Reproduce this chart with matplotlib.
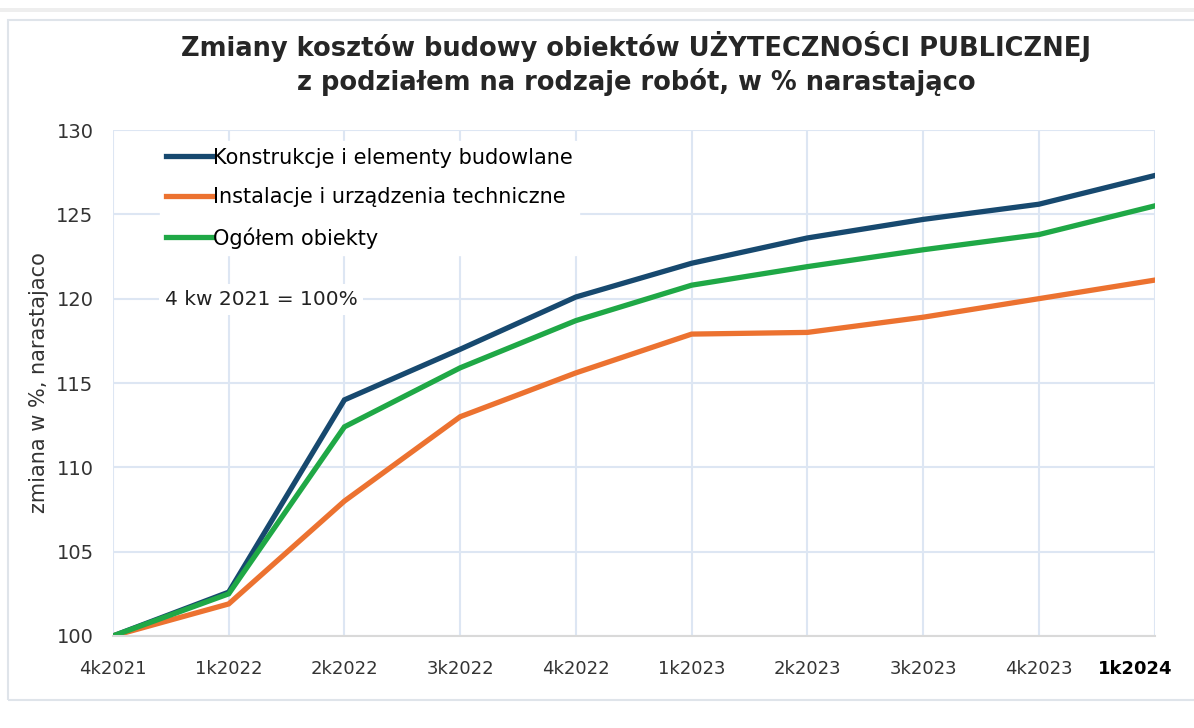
import numpy as np
import matplotlib
matplotlib.use("Agg")
import matplotlib.pyplot as plt
import matplotlib.transforms as mtrans
from matplotlib.patches import Rectangle

quarters = ["4k2021", "1k2022", "2k2022", "3k2022", "4k2022",
            "1k2023", "2k2023", "3k2023", "4k2023", "1k2024"]
konstrukcje = [100.0, 102.6, 114.0, 117.0, 120.1, 122.1, 123.6, 124.7, 125.6, 127.3]
instalacje = [100.0, 101.9, 108.0, 113.0, 115.6, 117.9, 118.0, 118.9, 120.0, 121.1]
ogolem = [100.0, 102.5, 112.4, 115.9, 118.7, 120.8, 121.9, 122.9, 123.8, 125.5]
names = ["Konstrukcje i elementy budowlane",
         "Instalacje i urządzenia techniczne",
         "Ogółem obiekty"]
colors = ["#17496f", "#ec7230", "#1fa846"]

fig = plt.figure(figsize=(11.94, 7.28), dpi=100)
ax = fig.add_axes([0.0946, 0.1264, 0.8724, 0.695])

# frame around the whole chart, plus the thin strip at the very top
fig.patches.append(Rectangle((8 / 1194, 28 / 728), 1.0, 680 / 728,
                             transform=fig.transFigure, fill=False,
                             edgecolor="#dfe4ea", lw=1.5))
fig.patches.append(Rectangle((0, 1 - 12 / 728), 1.0, 4 / 728,
                             transform=fig.transFigure, color="#eeeeee", lw=0))

x = np.arange(len(quarters))
for ys, name, c in zip([konstrukcje, instalacje, ogolem], names, colors):
    ax.plot(x, ys, color=c, lw=3.8, label=name, solid_joinstyle="miter")

ax.set_xlim(0, len(quarters) - 1)
ax.set_ylim(100, 130)
ax.set_yticks(np.arange(100, 131, 5))
ax.set_xticks(x)
ax.set_xticklabels(quarters)
ax.grid(True, color="#dde6f3", lw=1.5)
ax.set_axisbelow(True)
for s in ["top", "right", "left"]:
    ax.spines[s].set_visible(False)
ax.spines["bottom"].set_color("#d9d9d9")
ax.spines["bottom"].set_linewidth(1.5)
ax.tick_params(axis="x", length=0, pad=17, labelsize=13, colors="#333333")
ax.tick_params(axis="y", length=0, pad=14, labelsize=14, colors="#333333")
lbls = ax.get_xticklabels()
lbls[-1].set_fontweight("bold")
lbls[-1].set_color("black")
lbls[-1].set_transform(lbls[-1].get_transform() +
                       mtrans.ScaledTranslation(-0.19, 0, fig.dpi_scale_trans))

ax.set_ylabel("zmiana w %, narastajaco", fontsize=15, color="#333333", labelpad=5)

leg = ax.legend(loc="upper left", bbox_to_anchor=(0.035, 0.998), frameon=True,
                fontsize=15, handlelength=2.2, handletextpad=0.05,
                labelspacing=0.95, borderpad=0.3)
leg.get_frame().set_facecolor("white")
leg.get_frame().set_edgecolor("white")
leg.get_frame().set_alpha(1)

ax.text(0.05, 0.665, "4 kw 2021 = 100%", transform=ax.transAxes, fontsize=14.5,
        color="#222222", va="center", ha="left",
        bbox=dict(facecolor="white", edgecolor="none", pad=4))

fig.text(0.533, 1 - 47 / 728, "Zmiany kosztów budowy obiektów UŻYTECZNOŚCI PUBLICZNEJ",
         ha="center", va="center", fontsize=18.5, fontweight="bold", color="#262626")
fig.text(0.533, 1 - 82 / 728, "z podziałem na rodzaje robót, w % narastająco",
         ha="center", va="center", fontsize=18.5, fontweight="bold", color="#262626")

fig.savefig("out.png", dpi=100)
